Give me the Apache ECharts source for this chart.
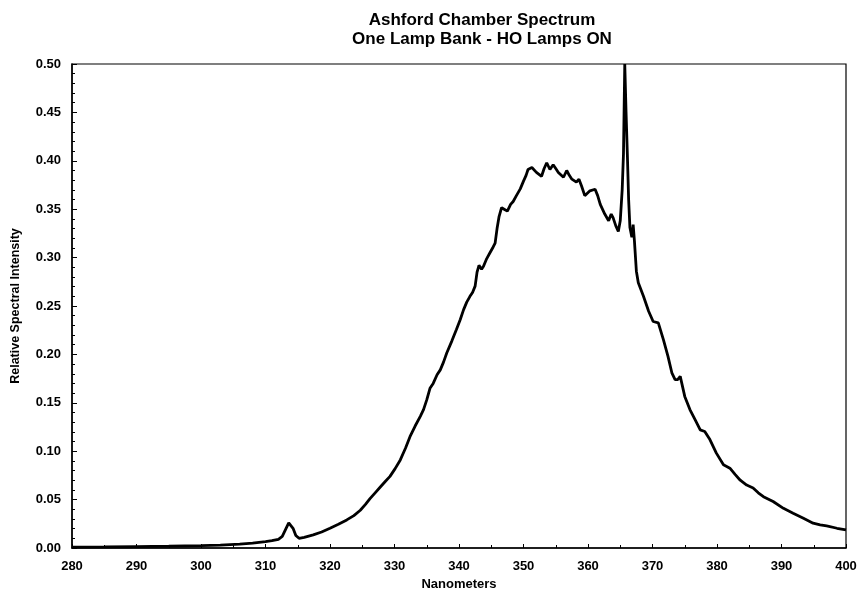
<!DOCTYPE html>
<html>
<head>
<meta charset="utf-8">
<script src="https://cdn.jsdelivr.net/npm/echarts@6/dist/echarts.min.js"></script>
<style>
html,body{margin:0;padding:0;background:#fff;}
#chart{width:858px;height:596px;}
</style>
</head>
<body>
<div id="chart"></div>
<script>
var titleLines = ['Ashford Chamber Spectrum', 'One Lamp Bank - HO Lamps ON'];
var xAxisName = 'Nanometers';
var yAxisName = 'Relative Spectral Intensity';

var wavelength = [
  280, 285, 290, 295, 300, 303, 306, 308, 310, 311, 312, 312.6, 313.1, 313.6, 313.9, 314.3, 314.7, 315.2, 316,
  317.4, 318.7, 320, 321.3, 322.6, 323.7, 324.7, 325.5, 326.2, 327, 327.8, 328.6, 329.3, 330.1, 330.9, 331.7,
  332.4, 333.2, 334, 334.5, 335, 335.5, 336, 336.6, 337.1, 337.6, 338.1, 338.9, 339.6, 340.2, 340.7, 341.2,
  341.7, 342.1, 342.5, 342.8, 343.1, 343.5, 343.8, 344.3, 344.8, 345.3, 345.6, 345.9, 346.2, 346.6, 347, 347.5,
  348, 348.4, 348.9, 349.5, 350, 350.4, 350.7, 351.3, 352, 352.8, 353.2, 353.6, 354.1, 354.6, 355, 355.4, 356.2,
  356.7, 357.1, 357.5, 358.2, 358.6, 359, 359.5, 360.3, 361.1, 361.5, 361.9, 362.6, 363.2, 363.6, 363.9, 364.3,
  364.7, 365, 365.3, 365.5, 365.7, 365.9, 366.1, 366.3, 366.5, 366.8, 367, 367.2, 367.5, 367.8, 368.6, 369.4,
  370.1, 370.9, 371.7, 372.4, 373, 373.5, 373.9, 374.3, 375, 375.8, 376.6, 377.4, 378.1, 378.9, 379.9, 381, 382,
  382.8, 383.6, 384.6, 385.6, 386.4, 387.2, 388.7, 390.3, 391.8, 393.4, 394.9, 396, 397, 398.6, 400
];
var intensity = [
  0.0010, 0.0012, 0.0015, 0.0018, 0.0024, 0.0030, 0.0040, 0.0050, 0.0065, 0.0075, 0.0090, 0.0120, 0.0190, 0.0260, 0.0270, 0.0200, 0.0130, 0.0100, 0.0110,
  0.0135, 0.0165, 0.0204, 0.0245, 0.0290, 0.0335, 0.0390, 0.0450, 0.0510, 0.0570, 0.0630, 0.0690, 0.0740, 0.0820, 0.0910, 0.1030,
  0.1150, 0.1260, 0.1360, 0.1430, 0.1530, 0.1650, 0.1700, 0.1790, 0.1840, 0.1920, 0.2015, 0.2140, 0.2257, 0.2360, 0.2460, 0.2540,
  0.2600, 0.2640, 0.2705, 0.2850, 0.2920, 0.2880, 0.2910, 0.2990, 0.3050, 0.3110, 0.3150, 0.3300, 0.3420, 0.3516, 0.3500, 0.3480,
  0.3550, 0.3580, 0.3640, 0.3710, 0.3790, 0.3850, 0.3910, 0.3930, 0.3880, 0.3840, 0.3920, 0.3980, 0.3910, 0.3960, 0.3920, 0.3880, 0.3830,
  0.3900, 0.3850, 0.3810, 0.3780, 0.3810, 0.3740, 0.3640, 0.3690, 0.3706, 0.3640, 0.3550, 0.3450, 0.3380, 0.3450, 0.3410, 0.3330,
  0.3270, 0.3380, 0.3700, 0.4070, 0.5000, 0.4500, 0.4070, 0.3600, 0.3310, 0.3210, 0.3340, 0.3170, 0.2860, 0.2740, 0.2600, 0.2446,
  0.2340, 0.2326, 0.2150, 0.1980, 0.1810, 0.1740, 0.1740, 0.1773, 0.1566, 0.1430, 0.1325, 0.1220, 0.1204, 0.1120, 0.0980, 0.0860, 0.0825,
  0.0760, 0.0700, 0.0650, 0.0620, 0.0570, 0.0530, 0.0480, 0.0410, 0.0360, 0.0307, 0.0256, 0.0240, 0.0228, 0.0204, 0.0186
];

var seriesData = wavelength.map(function (w, i) { return [w, intensity[i]]; });
var FONT = '"Liberation Sans", Arial, sans-serif';

var chart = echarts.init(document.getElementById('chart'), null, {renderer: 'canvas'});
chart.setOption({
  backgroundColor: '#ffffff',
  animation: false,
  title: {
    text: titleLines.join('\n'),
    left: 477,
    top: 6,
    textAlign: 'center',
    textStyle: {fontFamily: FONT, fontWeight: 'bold', fontSize: 17, lineHeight: 19, color: '#000'}
  },
  grid: {
    left: 72, right: 12, top: 64, bottom: 48,
    outerBoundsMode: 'none', containLabel: false,
    show: true, borderColor: '#000', borderWidth: 1.2, backgroundColor: 'transparent'
  },
  xAxis: {
    type: 'value', min: 280, max: 400, interval: 10,
    name: xAxisName, nameLocation: 'middle', nameGap: 30,
    nameTextStyle: {fontFamily: FONT, fontWeight: 'bold', fontSize: 13, color: '#000'},
    axisLine: {show: true, lineStyle: {color: '#000', width: 1.5}},
    axisTick: {show: true, inside: true, length: 4, lineStyle: {color: '#000', width: 1}},
    minorTick: {show: true, splitNumber: 2, length: 3, lineStyle: {color: '#000', width: 1}},
    axisLabel: {fontFamily: FONT, fontWeight: 'bold', fontSize: 13, color: '#000', margin: 12},
    splitLine: {show: false}
  },
  yAxis: {
    type: 'value', min: 0, max: 0.5, interval: 0.05,
    name: yAxisName, nameLocation: 'middle', nameGap: 50, nameRotate: 90,
    nameTextStyle: {fontFamily: FONT, fontWeight: 'bold', fontSize: 12.5, color: '#000'},
    axisLine: {show: true, lineStyle: {color: '#000', width: 1.5}},
    axisTick: {show: true, inside: true, length: 5, lineStyle: {color: '#000', width: 1}},
    minorTick: {show: true, splitNumber: 5, length: 3, lineStyle: {color: '#000', width: 1}},
    axisLabel: {fontFamily: FONT, fontWeight: 'bold', fontSize: 13, color: '#000', margin: 11,
      formatter: function (v) { return v.toFixed(2); }},
    splitLine: {show: false}
  },
  series: [{
    type: 'line',
    data: seriesData,
    showSymbol: false,
    symbol: 'none',
    smooth: false,
    lineStyle: {color: '#000', width: 2.8},
    clip: true
  }]
});
</script>
</body>
</html>
